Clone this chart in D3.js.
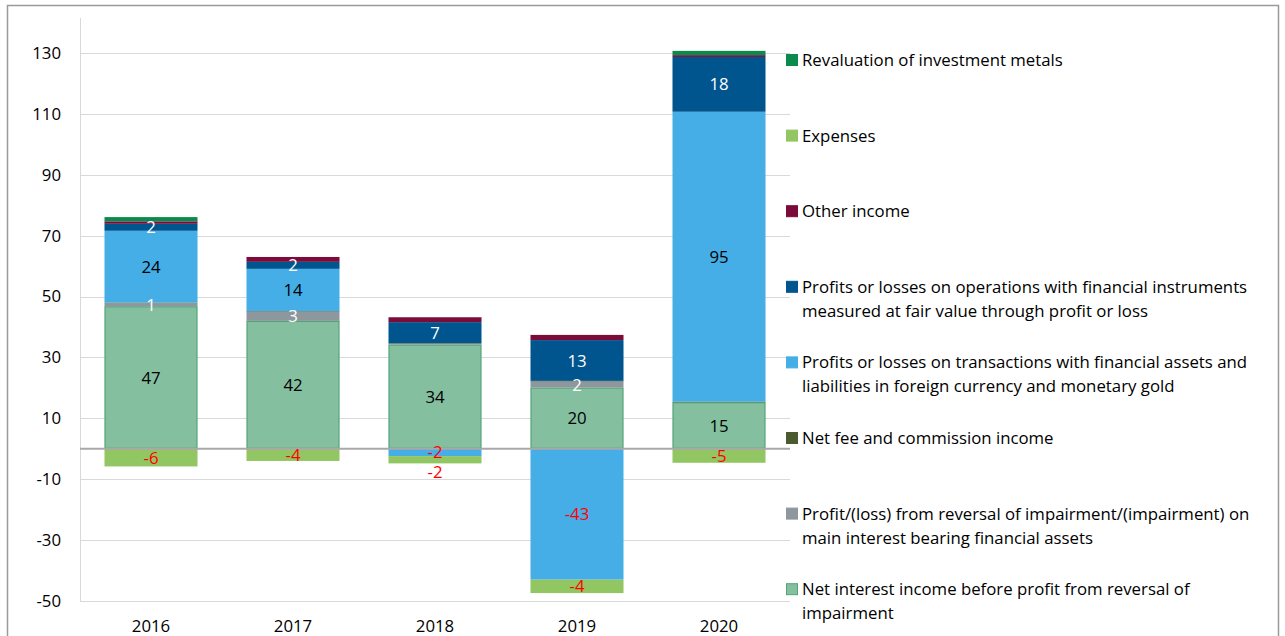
<!DOCTYPE html>
<html>
<head>
<meta charset="utf-8">
<script src="https://cdn.jsdelivr.net/npm/d3@7"></script>
<style>
  body { margin: 0; background: #fff; }
  text { font-family: "Open Sans", sans-serif; font-size: 16.8px; fill: #000; }
</style>
</head>
<body>
<script>
const width = 1285,
      height = 636;

const years = ["2016", "2017", "2018", "2019", "2020"];

// one array per series, stack order bottom -> top
const netInterest = [46.8, 42, 34.2, 20.1, 15.3];
const impairment = [1, 3, 0.3, 2, 0];
const netFee = [0.2, 0.2, 0.2, 0.2, 0.2];
const fxGold = [23.6, 13.9, -2.4, -43, 95.2];
const fairValue = [2.3, 2.3, 6.9, 13.4, 18];
const otherIncome = [0.8, 1.6, 1.6, 1.7, 0.6];
const expenses = [-5.8, -4, -2.4, -4.4, -4.6];
const revaluation = [1.4, 0, 0, 0, 1.4];

const yTicks = [-50, -30, -10, 10, 30, 50, 70, 90, 110, 130];

const series = [
    {key: "netInterest", values: netInterest, color: "#84bfa0", stroke: "#55a477", label: "#000",
     name: ["Net interest income before profit from reversal of", "impairment"]},
    {key: "impairment", values: impairment, color: "#8e979d", label: "#fff",
     name: ["Profit/(loss) from reversal of impairment/(impairment) on", "main interest bearing financial assets"]},
    {key: "netFee", values: netFee, color: "#4b5a2f", label: null,
     name: ["Net fee and commission income"]},
    {key: "fxGold", values: fxGold, color: "#45aee6", label: "#000",
     name: ["Profits or losses on transactions with financial assets and", "liabilities in foreign currency and monetary gold"]},
    {key: "fairValue", values: fairValue, color: "#01558f", label: "#fff",
     name: ["Profits or losses on operations with financial instruments", "measured at fair value through profit or loss"]},
    {key: "otherIncome", values: otherIncome, color: "#7b0c3a", label: null,
     name: ["Other income"]},
    {key: "expenses", values: expenses, color: "#92c662", label: "#ff0000",
     name: ["Expenses"]},
    {key: "revaluation", values: revaluation, color: "#0b8a4e", label: null,
     name: ["Revaluation of investment metals"]}
];

const table = years.map((year, i) => {
    const row = {year};
    series.forEach(s => row[s.key] = s.values[i]);
    return row;
});

const stacked = d3.stack()
    .keys(series.map(s => s.key))
    .offset(d3.stackOffsetDiverging)(table);

const x = d3.scaleBand()
    .domain(years)
    .range([80, 790])
    .paddingInner(0.345)
    .paddingOuter(0.1725);

const y = d3.scaleLinear()
    .domain([-50, 130])
    .range([601, 53]);

const svg = d3.select("body").append("svg")
    .attr("width", width)
    .attr("height", height);

svg.append("rect")
    .attr("x", 7.5).attr("y", 5.5)
    .attr("width", 1271).attr("height", 660)
    .attr("fill", "#fff")
    .attr("stroke", "#9a9a9a")
    .attr("stroke-width", 1.5);

// gridlines
svg.append("g")
    .selectAll("line")
    .data(yTicks)
    .join("line")
    .attr("x1", 80).attr("x2", 790)
    .attr("y1", d => Math.round(y(d)) + 0.5)
    .attr("y2", d => Math.round(y(d)) + 0.5)
    .attr("stroke", "#d9d9d9");

svg.append("line")
    .attr("x1", 80.5).attr("x2", 80.5)
    .attr("y1", 18).attr("y2", 601)
    .attr("stroke", "#d9d9d9");

// y labels (plain hyphen minus, like the source)
const yAxis = d3.axisLeft(y).tickValues(yTicks).tickFormat(d => String(d)).tickSize(0).tickPadding(0);
svg.append("g")
    .attr("transform", "translate(61,0)")
    .call(yAxis)
    .call(g => g.select(".domain").remove())
    .call(g => g.selectAll("text").attr("font-family", null).attr("font-size", null).style("fill", "#000"));

// bars
const layer = svg.append("g")
    .selectAll("g")
    .data(stacked)
    .join("g")
    .attr("fill", (d, i) => series[i].color);

layer.selectAll("rect")
    .data(d => d)
    .join("rect")
    .attr("x", d => x(d.data.year))
    .attr("width", x.bandwidth())
    .attr("y", d => y(Math.max(d[0], d[1])))
    .attr("height", d => Math.abs(y(d[0]) - y(d[1])));

// outlined series (net interest)
layer.filter((d, i) => series[i].stroke)
    .selectAll("rect")
    .attr("x", d => x(d.data.year) + 0.5)
    .attr("width", x.bandwidth() - 1)
    .attr("y", d => y(Math.max(d[0], d[1])) + 0.5)
    .attr("height", d => Math.abs(y(d[0]) - y(d[1])) - 1)
    .attr("stroke", series[0].stroke)
    .attr("stroke-width", 1.2);

// zero axis line
svg.append("line")
    .attr("x1", 80).attr("x2", 790)
    .attr("y1", y(0)).attr("y2", y(0))
    .attr("stroke", "#a8a8a8")
    .attr("stroke-width", 2);

// data labels
const labels = [];
stacked.forEach((layerData, i) => {
    const s = series[i];
    if (!s.label) return;
    layerData.forEach(d => {
        const v = s.values[years.indexOf(d.data.year)];
        if (Math.abs(Math.round(v)) < 1) return;
        labels.push({
            year: d.data.year,
            value: Math.round(v),
            color: v < 0 && s.key === "fxGold" ? "#ff0000" : s.label,
            y: y((d[0] + d[1]) / 2)
        });
    });
});
// push colliding negative labels downward
years.forEach(year => {
    const neg = labels.filter(l => l.year === year && l.value < 0).sort((a, b) => a.y - b.y);
    for (let k = 1; k < neg.length; k++) {
        if (neg[k].y - neg[k - 1].y < 20) neg[k].y = neg[k - 1].y + 20;
    }
});

svg.append("g")
    .selectAll("text")
    .data(labels)
    .join("text")
    .attr("x", d => x(d.year) + x.bandwidth() / 2)
    .attr("y", d => d.y)
    .attr("dy", "0.36em")
    .attr("text-anchor", "middle")
    .style("fill", d => d.color)
    .text(d => d.value);

// x labels
svg.append("g")
    .selectAll("text")
    .data(years)
    .join("text")
    .attr("x", d => x(d) + x.bandwidth() / 2)
    .attr("y", 632)
    .attr("text-anchor", "middle")
    .text(d => d);

// legend, reversed like the source
const legendItems = series.slice().reverse();
const legend = svg.append("g")
    .selectAll("g")
    .data(legendItems)
    .join("g")
    .attr("transform", (d, i) => `translate(786,${60 + i * 75.6})`);

legend.append("rect")
    .attr("x", 0.5).attr("y", -5.5)
    .attr("width", 11).attr("height", 11)
    .attr("fill", d => d.color)
    .attr("stroke", d => d.stroke || d.color);

legend.append("text")
    .attr("x", 16)
    .attr("y", 6)
    .selectAll("tspan")
    .data(d => d.name)
    .join("tspan")
    .attr("x", 16)
    .attr("dy", (d, i) => i === 0 ? 0 : 24)
    .text(d => d);
</script>
</body>
</html>
